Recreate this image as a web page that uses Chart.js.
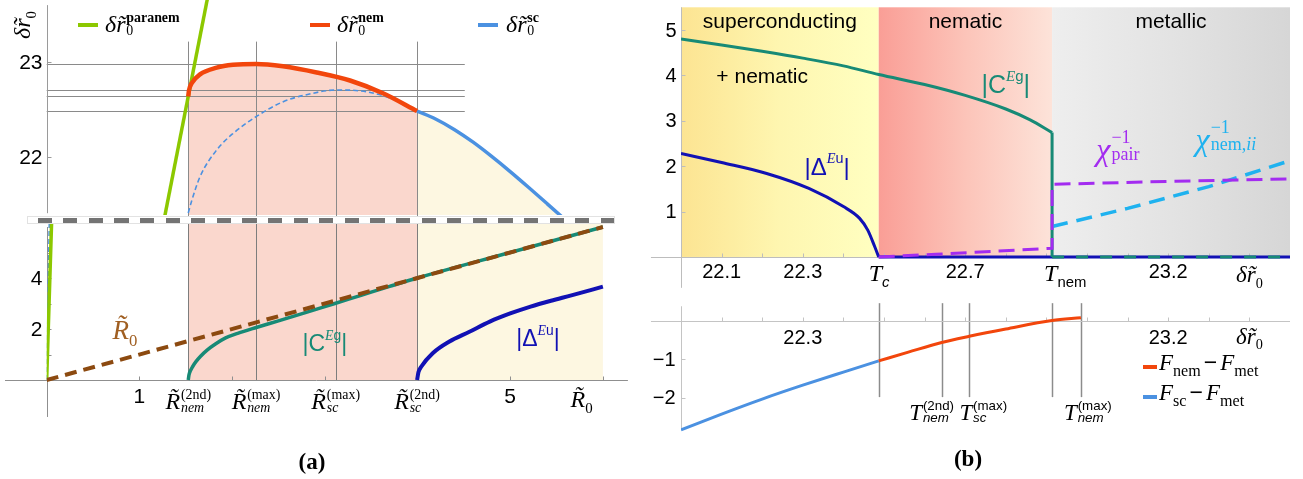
<!DOCTYPE html>
<html>
<head>
<meta charset="utf-8">
<title>Nematic and superconducting transitions</title>
<script src="https://cdn.jsdelivr.net/npm/chart.js@4.4.1/dist/chart.umd.min.js"></script>
<style>
  html, body { margin: 0; padding: 0; background: #fff; }
  #fig { position: relative; width: 1303px; height: 479px; overflow: hidden; font-family: "Liberation Sans", Arial, sans-serif; color: #000; }
  #fig canvas { position: absolute; left: 0; top: 0; }
  .lbl { position: absolute; white-space: nowrap; line-height: 1; }
  .it { font-family: "Liberation Serif", serif; font-style: italic; }
  .rm { font-family: "Liberation Serif", serif; font-style: normal; }
  .its { font-style: italic; }
  .ss { display: inline-flex; flex-direction: column; align-items: flex-start; font-size: 0.58em; line-height: 0.95; vertical-align: 0.72em; margin-left: 0.06em; }
  .sp { display: inline-block; font-size: 0.6em; vertical-align: 0.8em; }
  .sb { display: inline-block; font-size: 0.62em; vertical-align: -0.4em; }
  .fk .sb { font-size: 0.7em; vertical-align: -0.35em; }
  .fk .mn { margin: 0 3px; }
  .key { position: absolute; height: 4px; }
  .brk { position: absolute; left: 27px; top: 216px; width: 588px; height: 8px; background: #fff; box-sizing: border-box; border: 1px solid #e2e2e2; }
  .brk div { position: absolute; left: 0; right: 0; top: 1px; height: 4.5px;
    background: repeating-linear-gradient(90deg, transparent 0, transparent 9.7px, #747474 9.7px, #747474 23.7px, transparent 23.7px, transparent 25.6px); }
</style>
</head>
<body>
<div id="fig">
  <canvas id="ca1" width="1303" height="479"></canvas>
  <canvas id="ca2" width="1303" height="479"></canvas>
  <canvas id="cb1" width="1303" height="479"></canvas>
  <canvas id="cb2" width="1303" height="479"></canvas>
  <div class="brk"><div></div></div>
</div>
<script>
// ---- (a) upper: transition values of δr̃0 against R̃0 ----
const paranemR = [1.27, 1.735];
const paranemT = [21.36, 23.68];
const nemR = [1.527, 1.535, 1.564, 1.654, 1.834, 2.010, 2.258, 2.549, 2.912, 3.272, 3.628, 3.995];
const nemT = [22.642, 22.705, 22.781, 22.874, 22.945, 22.975, 22.985, 22.96, 22.895, 22.81, 22.675, 22.487];
const scR = [3.995, 4.2, 4.4, 4.6, 4.8, 5.0, 5.2, 5.4, 5.6, 5.7];
const scT = [22.487, 22.401, 22.291, 22.159, 22.009, 21.849, 21.681, 21.509, 21.335, 21.248];
const scDashR = [1.527, 1.567, 1.654, 1.834, 2.013, 2.258, 2.552, 2.85, 3.118, 3.452, 3.811, 3.995];
const scDashT = [21.412, 21.55, 21.795, 22.077, 22.253, 22.428, 22.586, 22.67, 22.71, 22.69, 22.586, 22.487];
// R̃nem(2nd), R̃nem(max), R̃sc(max), R̃sc(2nd) and the end of the R̃0 range
const rMarks = [1.527, 2.258, 3.118, 3.995];
const rEnd = 6.0;
// δr̃0 levels: sc(2nd) = Tc, nem(2nd), sc(max), nem(max)
const tLevels = [22.487, 22.642, 22.71, 22.985];

// ---- (a) lower: order parameters against R̃0 ----
const cEgR = [1.527, 1.535, 1.55, 1.575, 1.61, 1.66, 1.73, 1.82, 1.93, 2.06, 2.26, 2.5, 2.8, 3.1, 3.4, 3.7, 4.0, 5.0, 6.0];
const cEgV = [0, 0.2, 0.36, 0.53, 0.72, 0.93, 1.17, 1.41, 1.65, 1.83, 2.06, 2.32, 2.65, 2.99, 3.33, 3.67, 4.0, 5.0, 6.0];
const deltaR = [3.996, 4.01, 4.04, 4.164, 4.34, 4.56, 4.78, 5.0, 5.22, 5.44, 5.66, 6.0];
const deltaV = [0, 0.3, 0.52, 1.05, 1.5, 1.89, 2.29, 2.61, 2.88, 3.11, 3.32, 3.66];
const r0R = [0, 6.0];
const r0V = [0, 6.0];
const paranemLowR = [0, 0.054];
const paranemLowV = [0, 6.3];

// ---- (b) upper: order parameters and inverse susceptibilities against δr̃0 ----
const tBounds = [22.0, 22.487, 22.914, 23.5]; // start, Tc, Tnem, end
const cT = [22.0, 22.1, 22.2, 22.3, 22.4, 22.487, 22.6, 22.7, 22.8, 22.86, 22.914];
const cV = [4.80, 4.67, 4.53, 4.38, 4.21, 4.02, 3.80, 3.56, 3.26, 3.02, 2.74];
const dT = [22.0, 22.1, 22.211, 22.315, 22.4, 22.44, 22.46, 22.477, 22.487];
const dV = [2.28, 2.08, 1.84, 1.51, 1.11, 0.85, 0.59, 0.23, 0];
const pairT = [22.487, 22.628, 22.78, 22.914, 22.914, 23.2, 23.5];
const pairV = [0, 0.06, 0.13, 0.19, 1.60, 1.665, 1.72];
const nemSusT = [22.914, 23.1, 23.3, 23.5];
const nemSusV = [0.67, 1.07, 1.55, 2.12];

// ---- (b) lower: free energies relative to the metal ----
const fScT = [22.0, 22.1, 22.2, 22.3, 22.4, 22.487];
const fScV = [-2.84, -2.43, -2.04, -1.68, -1.34, -1.05];
const fNemT = [22.487, 22.56, 22.642, 22.71, 22.8, 22.914, 22.985];
const fNemV = [-1.05, -0.82, -0.57, -0.41, -0.22, 0.0, 0.07];

// ticks
const aXTicks = [1, 2, 3, 4, 5, 6];
const aXLabels = [1, 5];
const a1YTicks = [22, 23];
const a2YTicks = [1, 2, 3, 4, 5];
const a2YLabels = [2, 4];
const bXTicks = [22.1, 22.2, 22.3, 22.4, 22.5, 22.6, 22.7, 22.8, 22.9, 23.0, 23.1, 23.2, 23.3, 23.4];
const bTopXLabels = [22.1, 22.3, 22.7, 23.2];
const bBotXLabels = [22.3, 23.2];
const bTopYTicks = [1, 2, 3, 4, 5];
const bBotYTicks = [-1, -2];

const W = 1303, H = 479;
const fmt = v => (v < 0 ? '\u2212' + Math.abs(v) : String(v));

// backgrounds, reference lines and Mathematica-style axes
const decoPlugin = {
  id: 'deco',
  beforeDatasetsDraw(chart, args, o) {
    const ctx = chart.ctx, area = chart.chartArea;
    const px = v => chart.scales.x.getPixelForValue(v);
    const py = v => chart.scales.y.getPixelForValue(v);
    const snap = p => Math.round(p) + 0.5;
    ctx.save();
    (o.bands || []).forEach(b => {
      const x0 = px(b.from), x1 = px(b.to);
      let fill = b.colors[0];
      if (b.colors.length > 1) {
        fill = ctx.createLinearGradient(x0, 0, x1, 0);
        b.colors.forEach((c, i) => fill.addColorStop(i / (b.colors.length - 1), c));
      }
      ctx.fillStyle = fill;
      ctx.fillRect(x0, area.top, x1 - x0, py(0) - area.top);
    });
    (o.vlines || []).forEach(l => {
      ctx.strokeStyle = l.color; ctx.lineWidth = l.width || 1;
      ctx.beginPath(); ctx.moveTo(snap(px(l.x)), py(l.from)); ctx.lineTo(snap(px(l.x)), py(l.to)); ctx.stroke();
    });
    (o.hlines || []).forEach(l => {
      ctx.strokeStyle = l.color; ctx.lineWidth = l.width || 1;
      ctx.beginPath(); ctx.moveTo(px(l.from), snap(py(l.y))); ctx.lineTo(px(l.to), snap(py(l.y))); ctx.stroke();
    });
    const ax = o.axes;
    if (ax) {
      ctx.strokeStyle = ax.color; ctx.lineWidth = 1;
      const xA = snap(px(ax.yAt));
      const yA = ax.xSpan ? snap(py(ax.xAt)) : 0;
      ctx.beginPath();
      if (ax.xSpan) {
        ctx.moveTo(px(ax.xSpan[0]), yA); ctx.lineTo(px(ax.xSpan[1]), yA);
        (ax.xTicks || []).forEach(v => { ctx.moveTo(snap(px(v)), yA); ctx.lineTo(snap(px(v)), yA - 4); });
      }
      ctx.moveTo(xA, py(ax.ySpan[0])); ctx.lineTo(xA, py(ax.ySpan[1]));
      (ax.yTicks || []).forEach(v => { ctx.moveTo(xA, snap(py(v))); ctx.lineTo(xA + 4, snap(py(v))); });
      ctx.stroke();
      ctx.fillStyle = '#000'; ctx.font = ax.font;
      ctx.textAlign = 'center'; ctx.textBaseline = 'middle';
      (ax.xLabels || []).forEach(v => ctx.fillText(fmt(v), px(v), yA + ax.xGap));
      ctx.textAlign = 'right';
      (ax.yLabels || []).forEach(v => ctx.fillText(fmt(v), xA - ax.yGap, py(v) + 1));
    }
    ctx.restore();
  }
};

function series(xs, ys, color, width, extra) {
  return Object.assign({
    data: xs.map((x, i) => ({ x: x, y: ys[i] })),
    borderColor: color, borderWidth: width, pointRadius: 0, showLine: true, fill: false, tension: 0
  }, extra || {});
}
const smooth = { cubicInterpolationMode: 'monotone', tension: 0.4 };

function makeChart(id, box, xr, yr, datasets, deco) {
  return new Chart(document.getElementById(id), {
    type: 'scatter',
    data: { datasets: datasets },
    options: {
      responsive: false, animation: false, events: [],
      layout: { padding: { left: box.l, top: box.t, right: W - box.r, bottom: H - box.b } },
      scales: {
        x: { type: 'linear', display: false, min: xr[0], max: xr[1] },
        y: { type: 'linear', display: false, min: yr[0], max: yr[1] }
      },
      plugins: {
        legend: { display: false }, tooltip: { enabled: false },
        filler: { drawTime: 'beforeDatasetsDraw' },
        deco: deco
      }
    },
    plugins: [decoPlugin]
  });
}

const ORANGE = '#f2460c', SKY = '#4b91e1', GREEN = '#8cc800', TEAL = '#178a76',
      NAVY = '#1111b4', BROWN = '#8c4a10', PURPLE = '#a32cf0', CYAN = '#1fb2ef';

const a1 = makeChart('ca1', { l: 46.7, r: 630.7, t: 0, b: 215 }, [0, 6.3], [21.391, 23.659], [
  series(nemR, nemT, ORANGE, 4.5, Object.assign({ fill: 'start', backgroundColor: '#fad7cd' }, smooth)),
  series(paranemR, paranemT, GREEN, 3.5),
  series(scR, scT, SKY, 3.5, Object.assign({ fill: 'start', backgroundColor: '#fdf7e1' }, smooth)),
  series(scDashR, scDashT, SKY, 1.6, Object.assign({ borderDash: [5, 3] }, smooth))
], {
  hlines: tLevels.map(v => ({ y: v, from: 0, to: 4.51, color: '#8a8a8a' })),
  vlines: rMarks.map(v => ({ x: v, from: 21.3, to: 23.22, color: '#8a8a8a' })),
  axes: { color: '#9a9a9a', yAt: 0, ySpan: [21.41, 23.605], yTicks: a1YTicks, yLabels: a1YTicks,
          font: '21px "Liberation Sans"', yGap: 5 }
});

const a2 = makeChart('ca2', { l: 46.7, r: 630.7, t: 224, b: 385.1 }, [0, 6.3], [-0.2, 6.118], [
  series(r0R, r0V, BROWN, 4, { borderDash: [12, 7] }),
  series(cEgR, cEgV, TEAL, 3.5, smooth),
  series(deltaR, deltaV, NAVY, 4, smooth),
  series(paranemLowR, paranemLowV, GREEN, 3.5),
  series([0, 0.028], paranemLowV, SKY, 1.5, { borderDash: [5, 3] })
], {
  bands: [{ from: rMarks[0], to: rMarks[3], colors: ['#fad7cd'] }, { from: rMarks[3], to: rEnd, colors: ['#fdf7e1'] }],
  vlines: rMarks.map(v => ({ x: v, from: 0, to: 6.118, color: '#7d7d7d' })),
  axes: { color: '#8f8f8f', xAt: 0, xSpan: [-0.45, 6.27], yAt: 0, ySpan: [-1.45, 6.0],
          xTicks: aXTicks, xLabels: aXLabels, yTicks: a2YTicks, yLabels: a2YLabels,
          font: '21px "Liberation Sans"', xGap: 17, yGap: 5 }
});

const b1 = makeChart('cb1', { l: 681, r: 1290, t: 7.3, b: 261.5 }, [22.0, 23.5], [-0.1, 5.5], [
  series([tBounds[2], tBounds[3]], [0, 0], TEAL, 3, { borderDash: [12, 12] }),
  series(pairT, pairV, PURPLE, 3, { borderDash: [16, 8] }),
  series(nemSusT, nemSusV, CYAN, 3.5, { borderDash: [16, 9] }),
  series(cT, cV, TEAL, 3, smooth),
  series([tBounds[2], tBounds[2]], [cV[cV.length - 1], 0], TEAL, 3),
  series(dT, dV, NAVY, 3, smooth),
  series([tBounds[1], tBounds[3]], [0, 0], NAVY, 3)
], {
  bands: [
    { from: tBounds[0], to: tBounds[1], colors: ['rgb(252,228,146)', 'rgb(254,246,176)', 'rgb(255,255,193)'] },
    { from: tBounds[1], to: tBounds[2], colors: ['rgb(250,158,150)', 'rgb(252,196,185)', 'rgb(253,227,217)'] },
    { from: tBounds[2], to: tBounds[3], colors: ['rgb(238,238,238)', 'rgb(227,227,227)', 'rgb(214,214,214)'] }
  ],
  axes: { color: '#bdbdbd', xAt: 0, xSpan: [21.926, 23.5], yAt: 22.0, ySpan: [-0.68, 5.5],
          xTicks: bXTicks, xLabels: bTopXLabels, yTicks: bTopYTicks, yLabels: bTopYTicks,
          font: '20px "Liberation Sans"', xGap: 15, yGap: 5 }
});

const b2 = makeChart('cb2', { l: 681, r: 1290, t: 305.1, b: 432.15 }, [22.0, 23.5], [-2.9, 0.4], [
  series(fNemT, fNemV, ORANGE, 3, smooth),
  series(fScT, fScV, SKY, 3, smooth)
], {
  vlines: tLevels.concat([tBounds[2]]).map(v => ({ x: v, from: -1.99, to: 0.45, color: '#8c8c8c', width: 1.5 })),
  axes: { color: '#c4c4c4', xAt: 0, xSpan: [21.926, 23.5], yAt: 22.0, ySpan: [-2.84, 0.37],
          xTicks: bXTicks, xLabels: bBotXLabels, yTicks: bBotYTicks, yLabels: bBotYTicks,
          font: '20px "Liberation Sans"', xGap: 16.5, yGap: 6 }
});

// ---- text labels ----
const fig = document.getElementById('fig');
function put(html, x, y, style, left, cls) {
  const el = document.createElement('div');
  el.className = 'lbl' + (cls ? ' ' + cls : '');
  el.innerHTML = html;
  el.style.cssText += ';left:' + x + 'px;top:' + y + 'px;transform:' +
    (left ? 'translate(0,-50%)' : 'translate(-50%,-50%)') + ';' + (style || '');
  fig.appendChild(el);
  return el;
}
function at(ch, xv, yv) { return [ch.scales.x.getPixelForValue(xv), ch.scales.y.getPixelForValue(yv)]; }
function key(x, y, w, color) {
  const k = document.createElement('div');
  k.className = 'key';
  k.style.cssText += ';left:' + x + 'px;top:' + (y - 2) + 'px;width:' + w + 'px;background:' + color;
  fig.appendChild(k);
}
const dr0 = sup => '<span class="it">δr̃</span>' + (sup
  ? '<span class="ss"><b class="rm">' + sup + '</b><span class="rm">0</span></span>'
  : '<span class="sb rm">0</span>');
const rTilde = (sup, sub) => '<span class="it">R̃</span><span class="ss"><span class="rm">' + sup +
  '</span><span class="it">' + sub + '</span></span>';
const tMark = (sup, sub) => '<span class="it">T</span><span class="ss"><span>' + sup +
  '</span><span class="its">' + sub + '</span></span>';
const absOf = (sym, irrep) => '|' + sym + '<span class="sp"><span class="it">E</span>' + irrep + '</span>|';
const chi = (sub) => '<span class="it" style="font-size:32px">χ</span><span class="ss rm" style="font-size:0.75em;vertical-align:0.9em"><span>−1</span><span>' + sub + '</span></span>';
const fDiff = (phase) => '<span class="it">F</span><span class="sb rm">' + phase + '</span><span class="mn">−</span><span class="it">F</span><span class="sb rm">met</span>';

// (a) legend and axis titles
key(78, 25, 20, GREEN); put(dr0('paranem'), 105, 24, 'font-size:24px', true);
key(310, 25, 20, ORANGE); put(dr0('nem'), 337, 24, 'font-size:24px', true);
key(478, 25, 20, SKY); put(dr0('sc'), 506, 24, 'font-size:24px', true);
put(dr0(), 24, 25, 'font-size:24px;transform:translate(-50%,-50%) rotate(-90deg)');

let p;
p = at(a2, 0.845, 1.84); put('<span class="it">R̃</span><span class="sb rm">0</span>', p[0], p[1], 'font-size:27px;color:#a05f22');
p = at(a2, 3.0, 1.49); put(absOf('C', 'g'), p[0], p[1], 'font-size:23px;color:' + TEAL);
p = at(a2, 5.3, 1.69); put(absOf('Δ', 'u'), p[0], p[1], 'font-size:23px;color:' + NAVY);
[['(2nd)', 'nem'], ['(max)', 'nem'], ['(max)', 'sc'], ['(2nd)', 'sc']].forEach((s, i) => {
  p = at(a2, rMarks[i], 0);
  put(rTilde(s[0], s[1]), p[0], p[1] + 21, 'font-size:24px');
});
p = at(a2, 5.77, 0); put('<span class="it">R̃</span><span class="sb rm">0</span>', p[0], p[1] + 21, 'font-size:24px');
put('<b>(a)</b>', 312, 461, 'font-family:"Liberation Serif",serif;font-size:23px');

// (b) upper
const regions = ['superconducting', 'nematic', 'metallic'];
regions.forEach((name, i) => {
  p = at(b1, (tBounds[i] + tBounds[i + 1]) / 2, 5.22);
  put(name, p[0], p[1], 'font-size:21px');
});
p = at(b1, 22.2, 4.0); put('+ nematic', p[0], p[1], 'font-size:21px');
p = at(b1, 22.80, 3.85); put(absOf('C', 'g'), p[0], p[1], 'font-size:25px;color:' + TEAL);
p = at(b1, 22.36, 2.03); put(absOf('Δ', 'u'), p[0], p[1], 'font-size:24px;color:' + NAVY);
p = at(b1, 23.076, 2.42); put(chi('pair'), p[0], p[1], 'font-size:24px;color:' + PURPLE);
p = at(b1, 23.342, 2.64); put(chi('nem,<span class="it">ii</span>'), p[0], p[1], 'font-size:24px;color:' + CYAN);
p = at(b1, tBounds[1], 0); put('<span class="it">T</span><span class="sb its">c</span>', p[0] - 10, p[1] + 18, 'font-size:24px', true);
p = at(b1, tBounds[2], 0); put('<span class="it">T</span><span class="sb">nem</span>', p[0] - 8, p[1] + 18, 'font-size:24px', true);
p = at(b1, 23.4, 0); put(dr0(), p[0], p[1] + 19, 'font-size:23px');

// (b) lower
[[tLevels[1], '(2nd)', 'nem', -10], [tLevels[2], '(max)', 'sc', 14], [tLevels[3], '(max)', 'nem', 7]].forEach(s => {
  p = at(b2, s[0], 0);
  put(tMark(s[1], s[2]), p[0] + s[3], p[1] + 92, 'font-size:23px');
});
p = at(b2, 23.4, 0); put(dr0(), p[0], p[1] + 17, 'font-size:23px');
key(1143, 367, 14, ORANGE);
put(fDiff('nem'), 1159, 365, 'font-size:23px', true, 'fk');
key(1143, 397, 14, SKY);
put(fDiff('sc'), 1159, 395, 'font-size:23px', true, 'fk');
put('<b>(b)</b>', 968, 458, 'font-family:"Liberation Serif",serif;font-size:23px');
</script>
</body>
</html>
